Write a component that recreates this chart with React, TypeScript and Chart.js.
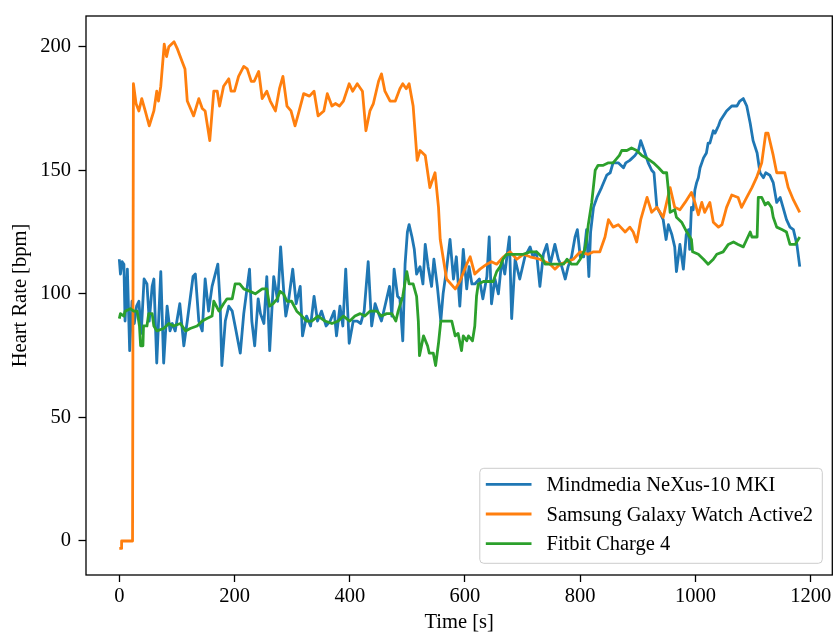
import React, { useEffect, useRef } from "react";
import { Chart, registerables } from "chart.js";

Chart.register(...registerables);

const seriesLabels = [
  "Mindmedia NeXus-10 MKI",
  "Samsung Galaxy Watch Active2",
  "Fitbit Charge 4",
];
const seriesColors = ["#1f77b4", "#ff7f0e", "#2ca02c"];

const xTicks = [0, 200, 400, 600, 800, 1000, 1200];
const yTicks = [0, 50, 100, 150, 200];

const nexusTime = [
  0, 2, 5, 8, 10, 14, 18, 22, 26, 30, 34, 38, 43, 48, 52, 57, 60, 65, 72, 77, 83, 88, 92, 97, 105, 112, 118, 128,
  132, 138, 144, 149, 155, 161, 171, 175, 178, 184, 190, 196, 201, 210, 216, 226, 230, 235, 241, 245, 251, 256,
  261, 268, 275, 280, 286, 289, 293, 301, 307, 314, 318, 325, 332, 338, 344, 351, 359, 366, 373, 377, 383, 388,
  393, 399, 406, 413, 419, 425, 432, 438, 444, 450, 455, 461, 469, 473, 477, 483, 487, 492, 496, 500, 503, 508,
  512, 516, 522, 527, 531, 536, 542, 546, 552, 558, 562, 568, 574, 580, 585, 591, 597, 603, 607, 612, 617, 625,
  631, 638, 642, 646, 652, 658, 664, 669, 677, 681, 687, 695, 704, 713, 718, 724, 730, 736, 742, 748, 756, 762,
  768, 774, 779, 785, 791, 795, 800, 806, 811, 815, 818, 823, 829, 837, 846, 852, 857, 866, 875, 879, 886, 895,
  901, 905, 911, 918, 924, 928, 933, 938, 944, 949, 953, 959, 964, 967, 973, 979, 984, 988, 990, 993, 996, 999,
  1002, 1005, 1008, 1011, 1014, 1019, 1022, 1025, 1031, 1034, 1040, 1043, 1054, 1063, 1072, 1077, 1083, 1089,
  1095, 1100, 1107, 1112, 1118, 1122, 1129, 1135, 1141, 1147, 1152, 1158, 1164, 1170, 1176, 1181,
];
const nexusHR = [
  114, 108, 113, 112, 89, 110, 77, 97, 88, 95, 97, 84, 106, 104, 89, 103, 106, 72, 109, 72, 95, 85, 88, 85, 96, 79,
  89, 107, 108, 89, 85, 106, 93, 103, 112, 96, 71, 89, 95, 93, 87, 76, 92, 110, 89, 79, 98, 92, 88, 107, 77, 107,
  97, 119, 99, 91, 96, 110, 96, 103, 83, 91, 87, 99, 89, 93, 87, 89, 93, 83, 95, 87, 110, 80, 89, 89, 88, 93, 113,
  87, 96, 92, 89, 95, 103, 91, 110, 99, 98, 81, 112, 125, 128, 123, 118, 108, 111, 104, 120, 111, 103, 114, 103,
  89, 100, 110, 122, 106, 115, 95, 118, 102, 111, 104, 104, 106, 98, 107, 123, 96, 106, 100, 114, 108, 123, 90,
  114, 106, 115, 119, 115, 117, 103, 116, 120, 112, 120, 114, 111, 106, 111, 115, 123, 126, 115, 115, 126, 107,
  125, 135, 139, 143, 148, 149, 153, 153, 151, 153, 154, 156, 158, 162, 158, 153, 150, 149, 135, 133, 130, 122,
  128, 124, 119, 109, 120, 110, 124, 126, 118, 135, 134, 142, 145, 147, 151, 153, 155, 157, 161, 161, 166, 165,
  168, 170, 174, 176, 176, 178, 179, 176, 169, 162, 157, 149, 147, 149, 148, 145, 137, 139, 135, 130, 127, 126,
  120, 111,
];

const samsungTime = [
  0, 3, 4, 23, 24.5, 29, 34, 39, 45, 52, 60, 65, 68, 72, 78, 82, 86, 95, 101, 109, 114, 118, 129, 138, 144, 149,
  157, 164, 170, 174, 181, 190, 194, 200, 207, 216, 222, 229, 234, 242, 248, 256, 262, 271, 278, 284, 291, 298,
  305, 311, 320, 330, 338, 345, 355, 361, 369, 375, 382, 389, 399, 405, 413, 422, 428, 435, 441, 450, 455, 461,
  470, 479, 487, 492, 498, 503, 510, 517, 522, 531, 539, 548, 554, 557, 568, 583, 591, 603, 609, 617, 626, 638,
  646, 655, 667, 678, 690, 701, 713, 730, 748, 756, 765, 777, 788, 800, 814, 823, 834, 843, 849, 857, 866, 878,
  886, 892, 898, 905, 916, 924, 933, 944, 956, 964, 973, 982, 993, 999, 1005, 1011, 1016, 1025, 1031, 1040, 1046,
  1054, 1063, 1074, 1080, 1089, 1098, 1106, 1115, 1122, 1126, 1135, 1141, 1147, 1155, 1161, 1170, 1181,
];
const samsungHR = [
  -3, -3, 0, 0, 185, 177, 174, 179, 174, 168, 174, 182, 178, 184, 201, 196, 200, 202, 199, 194, 191, 178, 172,
  179, 175, 174, 162, 182, 182, 176, 184, 187, 182, 182, 188, 192, 191, 186, 186, 190, 179, 182, 178, 174, 183,
  188, 176, 174, 168, 173, 181, 180, 182, 172, 174, 181, 176, 177, 176, 178, 185, 182, 185, 182, 166, 174, 177,
  186, 189, 182, 178, 178, 183, 185, 183, 185, 176, 154, 158, 156, 143, 149, 135, 122, 106, 102, 105, 112, 115,
  108, 110, 112, 113, 112, 115, 117, 114, 116, 115, 114, 112, 110, 112, 113, 114, 117, 116, 117, 117, 123, 130,
  127, 128, 125, 127, 125, 121, 130, 139, 133, 135, 131, 143, 135, 134, 137, 141, 137, 132, 137, 133, 137, 129,
  127, 128, 135, 140, 139, 135, 139, 143, 147, 153, 165, 165, 156, 149, 149, 149, 143, 138, 133,
];

const fitbitTime = [
  0, 2, 8, 10, 19, 25, 31, 35, 37, 41, 42, 48, 51, 57, 60, 65, 77, 86, 94, 106, 115, 123, 135, 144, 152, 161, 164,
  173, 181, 187, 196, 201, 209, 216, 227, 236, 248, 256, 261, 267, 274, 279, 285, 291, 299, 308, 317, 325, 334,
  345, 357, 369, 380, 389, 400, 409, 418, 426, 435, 447, 455, 464, 473, 480, 484, 492, 499, 503, 510, 516, 519,
  521, 528, 535, 538, 545, 549, 554, 558, 565, 571, 577, 583, 588, 594, 597, 603, 606, 613, 617, 620, 623, 632,
  649, 655, 661, 666, 672, 681, 693, 701, 713, 724, 733, 739, 748, 759, 771, 777, 785, 794, 800, 808, 811, 814,
  820, 826, 831, 840, 849, 857, 868, 872, 881, 889, 898, 907, 915, 927, 936, 944, 950, 953, 956, 964, 967, 976,
  985, 993, 995, 1005, 1014, 1022, 1031, 1037, 1048, 1057, 1066, 1074, 1083, 1089, 1095, 1098, 1103, 1107, 1109,
  1115, 1121, 1126, 1132, 1135, 1141, 1150, 1158, 1164, 1173, 1181,
];
const fitbitHR = [
  90, 92, 91, 93, 94, 93, 93, 87, 79, 79, 87, 87, 92, 92, 87, 85, 86, 88, 87, 88, 85, 86, 87, 89, 90, 91, 97, 93,
  96, 98, 98, 104, 104, 102, 101, 100, 102, 102, 95, 96, 98, 101, 100, 97, 97, 93, 91, 89, 89, 91, 89, 88, 89, 91,
  89, 91, 92, 91, 93, 93, 91, 92, 92, 89, 93, 99, 109, 104, 104, 99, 89, 75, 83, 79, 76, 76, 71, 80, 89, 89, 89,
  89, 83, 84, 77, 83, 81, 83, 81, 87, 99, 104, 105, 105, 109, 111, 114, 116, 116, 116, 116, 117, 117, 115, 112,
  112, 112, 112, 114, 112, 112, 114, 118, 122, 128, 137, 150, 152, 152, 153, 153, 156, 158, 158, 159, 158, 156,
  155, 153, 151, 149, 149, 142, 133, 134, 131, 129, 125, 122, 117, 116, 114, 112, 114, 116, 117, 120, 121, 120,
  119, 122, 125, 123, 123, 123, 139, 139, 136, 137, 135, 131, 127, 126, 125, 120, 120, 123,
];

const FONT = "'Liberation Serif', 'Times New Roman', serif";
const FONT_SIZE = 20.5;

function toPoints(t: number[], v: number[]) {
  return t.map((x, i) => ({ x, y: v[i] }));
}

function zeroPadding(s: any) {
  s.paddingTop = 0;
  s.paddingBottom = 0;
  s.paddingLeft = 0;
  s.paddingRight = 0;
}

const framePlugin = {
  id: "mplFrame",
  afterDatasetsDraw(chart: any) {
    const { ctx, chartArea: a } = chart;
    ctx.save();
    ctx.strokeStyle = "#000";
    ctx.lineWidth = 1.3;
    ctx.strokeRect(a.left, a.top, a.right - a.left, a.bottom - a.top);
    ctx.restore();
  },
  afterDraw(chart: any) {
    const { ctx, chartArea: a } = chart;
    const datasets = chart.data.datasets;
    ctx.save();
    ctx.font = `${FONT_SIZE}px ${FONT}`;
    let maxW = 0;
    datasets.forEach((d: any) => {
      maxW = Math.max(maxW, ctx.measureText(d.label).width);
    });
    const right = a.right - 10;
    const width = maxW + 66.7 + 9.3;
    const left = right - width;
    const height = 95;
    const top = a.bottom - 11.7 - height;
    ctx.beginPath();
    (ctx as any).roundRect(left, top, width, height, 4);
    ctx.fillStyle = "rgba(255,255,255,0.8)";
    ctx.fill();
    ctx.strokeStyle = "#cccccc";
    ctx.lineWidth = 1;
    ctx.stroke();
    datasets.forEach((d: any, i: number) => {
      const yRow = top + 16 + i * 29.7;
      ctx.beginPath();
      ctx.moveTo(left + 6, yRow);
      ctx.lineTo(left + 51.7, yRow);
      ctx.strokeStyle = d.borderColor;
      ctx.lineWidth = 2.8;
      ctx.stroke();
      ctx.fillStyle = "#000";
      ctx.textBaseline = "alphabetic";
      ctx.textAlign = "left";
      ctx.fillText(d.label, left + 66.7, yRow + 6.6);
    });
    ctx.restore();
  },
};

export default function App() {
  const canvasRef = useRef<HTMLCanvasElement | null>(null);

  useEffect(() => {
    const canvas = canvasRef.current;
    if (!canvas) return;
    const series = [
      toPoints(nexusTime, nexusHR),
      toPoints(samsungTime, samsungHR),
      toPoints(fitbitTime, fitbitHR),
    ];
    const tickFont = { family: FONT, size: FONT_SIZE };
    const chart = new Chart(canvas, {
      type: "line",
      data: {
        datasets: series.map((data, i) => ({
          label: seriesLabels[i],
          data,
          borderColor: seriesColors[i],
          backgroundColor: seriesColors[i],
          borderWidth: 2.8,
          pointRadius: 0,
          tension: 0,
          fill: false,
          borderJoinStyle: "round" as const,
          order: 3 - i,
        })),
      },
      options: {
        animation: false,
        responsive: false,
        devicePixelRatio: 1,
        events: [],
        layout: { padding: { top: 16, left: 0, right: 0.7, bottom: 0 } },
        plugins: {
          legend: { display: false },
          tooltip: { enabled: false },
        },
        scales: {
          x: {
            type: "linear",
            min: -57.8,
            max: 1237.5,
            afterBuildTicks: (s: any) => {
              s.ticks = xTicks.map((v) => ({ value: v }));
            },
            afterFit: (s: any) => {
              s.height = 61;
              zeroPadding(s);
            },
            grid: {
              drawOnChartArea: false,
              drawTicks: true,
              tickLength: 7,
              tickWidth: 1.3,
              tickColor: "#000",
            },
            border: { display: false },
            ticks: {
              font: tickFont,
              color: "#000",
              padding: 2,
              maxRotation: 0,
              autoSkip: false,
              callback: (v: any) => String(v),
            },
            title: {
              display: true,
              text: "Time [s]",
              color: "#000",
              font: { family: FONT, size: FONT_SIZE, lineHeight: 1.2 },
              padding: { top: 0, bottom: 1.3 },
            },
          },
          y: {
            type: "linear",
            min: -13.76,
            max: 212.42,
            afterBuildTicks: (s: any) => {
              s.ticks = yTicks.map((v) => ({ value: v }));
            },
            afterFit: (s: any) => {
              s.width = 86;
              zeroPadding(s);
            },
            grid: {
              drawOnChartArea: false,
              drawTicks: true,
              tickLength: 7.5,
              tickWidth: 1.3,
              tickColor: "#000",
            },
            border: { display: false },
            ticks: {
              font: tickFont,
              color: "#000",
              padding: 7.5,
              autoSkip: false,
              callback: (v: any) => String(v),
            },
            title: {
              display: true,
              text: "Heart Rate [bpm]",
              color: "#000",
              font: { family: FONT, size: FONT_SIZE, lineHeight: 1.2 },
              padding: { top: 8, bottom: 0 },
            },
          },
        },
      },
      plugins: [framePlugin],
    });
    return () => chart.destroy();
  }, []);

  return (
    <div style={{ position: "absolute", left: 0, top: 0, width: 833, height: 636, background: "#fff" }}>
      <canvas ref={canvasRef} width={833} height={636} style={{ width: 833, height: 636, display: "block" }} />
    </div>
  );
}
